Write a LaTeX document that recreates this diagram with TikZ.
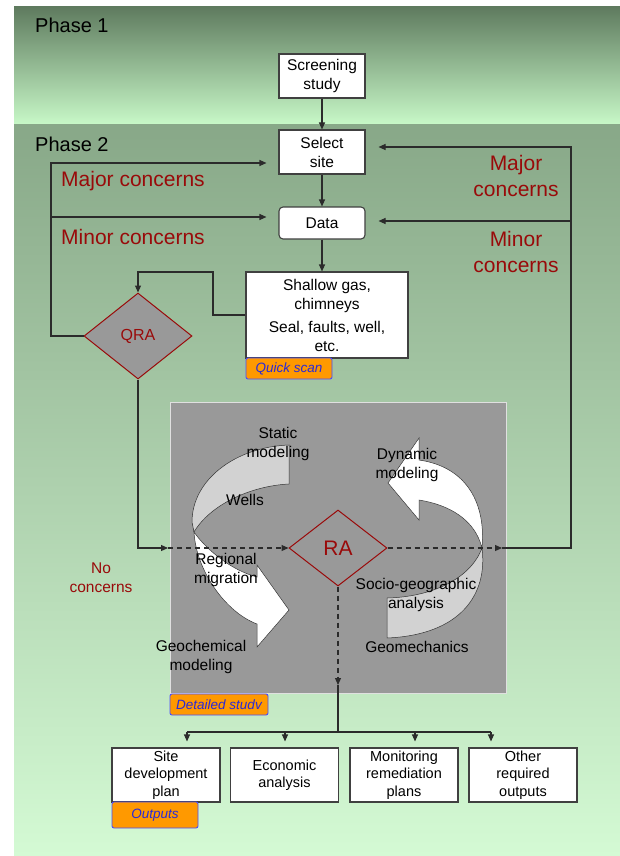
\documentclass[tikz,border=0pt]{standalone}
\usepackage{fontspec}
\setmainfont{Liberation Sans}
\usetikzlibrary{arrows.meta,shapes.geometric}
\definecolor{dred}{HTML}{990A0A}
\definecolor{tagor}{HTML}{FF9900}
\definecolor{tagbl}{HTML}{2A2AD8}
\definecolor{tagbd}{HTML}{4C4CFF}
\definecolor{gbox}{HTML}{999999}
\definecolor{p1top}{HTML}{5F7B5F}
\definecolor{p1bot}{HTML}{C8F9C8}
\definecolor{p2top}{HTML}{88A888}
\definecolor{p2bot}{HTML}{D4FAD4}
\definecolor{lgray}{HTML}{D2D2D2}
\definecolor{lnc}{HTML}{2B2B2B}
\begin{document}
\begin{tikzpicture}[x=1pt,y=-1pt,
 box/.style={draw=lnc!90, line width=1.1pt, fill=white, inner sep=0pt, align=center, font=\fontsize{15.5}{19}\selectfont},
 obox/.style={box, minimum width=108pt, minimum height=54pt, font=\fontsize{14.5}{17.5}\selectfont},
 tagbox/.style={draw=tagbd, line width=0.9pt, fill=tagor, rounded corners=2pt, inner sep=0pt, font=\fontsize{13.5}{16}\selectfont\itshape, text=tagbl},
 redtxt/.style={text=dred, font=\fontsize{21}{26}\selectfont, align=center, inner sep=0pt},
 lbl/.style={font=\fontsize{15.5}{19}\selectfont, align=center, inner sep=0pt},
 conn/.style={draw=lnc, line width=1.1pt},
 arr/.style={conn, -{Triangle[length=7pt,width=6pt]}},
 dasharr/.style={arr, dash pattern=on 5pt off 4pt},
 ribbon/.style={draw=black!80, line width=0.5pt},
]
\useasboundingbox (0,0) rectangle (620,856);
\fill[white] (0,0) rectangle (620,856);
\shade[top color=p1top, bottom color=p1bot] (14,7) rectangle (620,125);
\shade[top color=p2top, bottom color=p2bot] (14,125) rectangle (620,856);

\node[anchor=west, font=\fontsize{20}{24}\selectfont, inner sep=0pt] (ph1) at (35,25) {Phase 1};
\node[anchor=west, font=\fontsize{20}{24}\selectfont, inner sep=0pt] (ph2) at (35,144) {Phase 2};

% Phase boxes
\node[box, minimum width=86pt, minimum height=44pt] (screen) at (322,76) {Screening\\study};
\node[box, minimum width=86pt, minimum height=44pt] (select) at (322,152) {Select\\site};
\node[box, rounded corners=4pt, minimum width=86pt, minimum height=32pt] (data) at (322,223) {Data};
\node[box, minimum width=162pt, minimum height=86pt] (shallow) at (327,315) {Shallow gas,\\chimneys\\[4pt]Seal, faults, well,\\etc.};
\node[tagbox, minimum width=86pt, minimum height=21pt] (quick) at (289,368.5) {Quick scan};
\node[diamond, draw=dred, line width=1pt, fill=gbox, minimum width=108pt, minimum height=86pt, inner sep=0pt, text=dred, font=\fontsize{16}{19}\selectfont] (qra) at (138,336) {QRA};

% detailed study area
\node[draw=white!88!black, line width=0.8pt, fill=gbox, minimum width=336pt, minimum height=291pt, inner sep=0pt] (detail) at (338,547.5) {};
\node[tagbox, minimum width=98pt, minimum height=21pt] (dtag) at (219,704.5) {Detailed studv};

% left ribbon arrow
\filldraw[ribbon, fill=lgray] (289,445) .. controls (235,447) and (192,480) .. (192,522) -- (194,532)
  .. controls (210,505) and (250,486) .. (289,484) -- cycle;
\filldraw[ribbon, fill=white] (194,532) .. controls (196,570) and (225,612) .. (257,624)
  -- (257,647) -- (289,610) -- (257,565) -- (257,577)
  .. controls (230,570) and (205,548) .. (194,532) -- cycle;
% right ribbon arrow
\filldraw[ribbon, fill=white] (482,548) .. controls (486,505) and (468,467) .. (419,460)
  -- (419,438) -- (388,483) -- (419,520) -- (419,500)
  .. controls (450,505) and (475,520) .. (482,548) -- cycle;
\filldraw[ribbon, fill=lgray] (482,548) .. controls (488,595) and (460,635) .. (387,638)
  -- (387,598) .. controls (430,597) and (470,580) .. (482,548) -- cycle;

\node[diamond, draw=dred, line width=1pt, minimum width=98pt, minimum height=76pt, inner sep=0pt, text=dred, font=\fontsize{21}{25}\selectfont] (ra) at (338,548) {RA};

% outputs
\node[obox] (o1) at (166,775) {Site\\development\\plan};
\node[obox] (o2) at (284.5,775) {Economic\\analysis};
\node[obox] (o3) at (404,775) {Monitoring\\remediation\\plans};
\node[obox] (o4) at (523,775) {Other\\required\\outputs};
\node[tagbox, minimum width=86pt, minimum height=26pt] (otag) at (155,815) {Outputs};

% red labels
\node[redtxt, anchor=west] (majl) at (61,181) {Major concerns};
\node[redtxt, anchor=west] (minl) at (61,237) {Minor concerns};
\node[redtxt] (majr) at (516,176) {Major\\concerns};
\node[redtxt] (minr) at (516,252) {Minor\\concerns};
\node[redtxt, font=\fontsize{15.5}{19}\selectfont] (noc) at (101,578) {No\\concerns};

% coordinates
\coordinate (L1) at (51,163);
\coordinate (L2) at (51,217);
\coordinate (S2) at (213,272);
\coordinate (Q0) at (138,548);
\coordinate (gin) at (168,548);
\coordinate (gout) at (502,548);
\coordinate (R0) at (571,548);
\coordinate (R1) at (571,147);
\coordinate (R2) at (571,221);
\coordinate (gdn) at (338,685);
\coordinate (hub) at (338,732);
\coordinate (h1) at (187,732);
\coordinate (h2) at (285,732);
\coordinate (h3) at (415,732);
\coordinate (h4) at (491,732);

% connectors
\draw[arr] (screen) -- (select);
\draw[arr] (select) -- (data);
\draw[arr] (data.south) -- (data.south |- shallow.north);
\draw[arr] (shallow.west) -| (S2) -| (qra.north);
\draw[arr] (qra.west) -| (L1) -- ([xshift=-12pt]select.west |- L1);
\draw[arr] (L2) -- ([xshift=-12pt]data.west |- L2);
\draw[arr] (qra.south) -- (Q0) -- (gin);
\draw[dasharr] (gin) -- (ra.west);
\draw[dasharr] (ra.east) -- (gout);
\draw[arr] (gout) -- (R0) -- (R1) -- ([xshift=13pt]select.east |- R1);
\draw[arr] (R2) -- ([xshift=13pt]data.east |- R2);
\draw[dasharr] (ra.south) -- (gdn);
\draw[conn] (gdn) -- (hub);
\draw[conn] (h1) -- (h4);
\draw[arr, shorten >=6pt] (h1) -- (h1 |- o1.north);
\draw[arr, shorten >=6pt] (h2) -- (h2 |- o2.north);
\draw[arr, shorten >=6pt] (h3) -- (h3 |- o3.north);
\draw[arr, shorten >=6pt] (h4) -- (h4 |- o4.north);

% labels inside the detailed study
\node[lbl] (t1) at (278,444) {Static\\modeling};
\node[lbl] (t2) at (245,500) {Wells};
\node[lbl] (t3) at (226,570) {Regional\\migration};
\node[lbl] (t4) at (201,657) {Geochemical\\modeling};
\node[lbl] (t5) at (407,465) {Dynamic\\modeling};
\node[lbl] (t6) at (416,595) {Socio-geographic\\analysis};
\node[lbl] (t7) at (417,647) {Geomechanics};
\end{tikzpicture}
\end{document}
